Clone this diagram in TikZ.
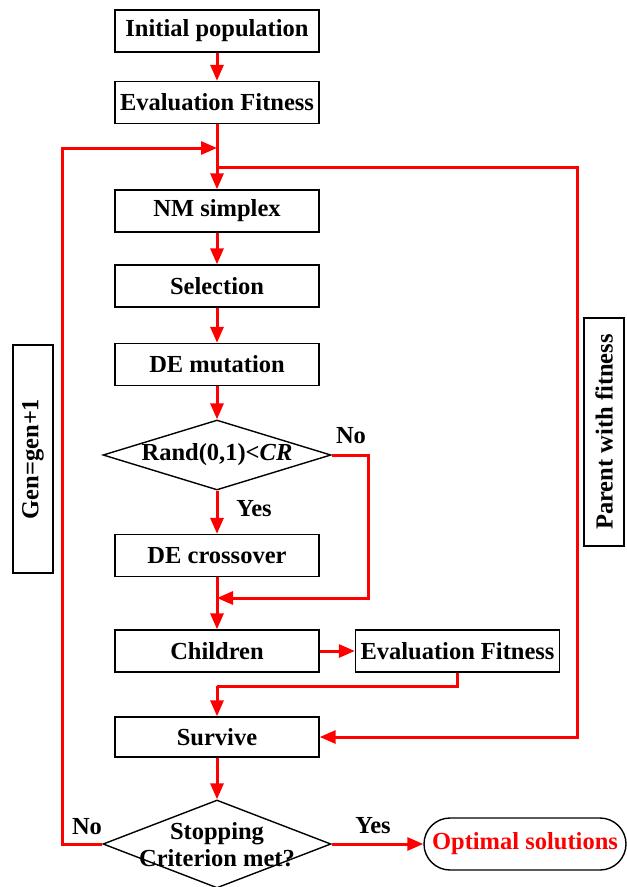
\documentclass[tikz,border=0pt]{standalone}
\usepackage{fontspec}
\setmainfont{Liberation Serif}
\usetikzlibrary{arrows.meta,shapes.geometric}
\begin{document}
\begin{tikzpicture}[x=1pt,y=-1pt,
  txt/.style={font=\fontsize{24.5}{27}\selectfont\bfseries},
  box/.style={txt,draw=black,line width=1.4pt,minimum width=204pt,minimum height=42pt,inner sep=0pt},
  sidebox/.style={txt,draw=black,line width=1.4pt,minimum width=228pt,minimum height=40pt,inner sep=0pt,rotate=90},
  dia/.style={diamond,draw=black,line width=1.4pt,minimum width=228pt,inner sep=0pt},
  flow/.style={draw=red,line width=3pt},
  arr/.style={flow,-{Triangle[length=16pt,width=13pt]}},
  lbl/.style={txt,inner sep=0pt}
]
\useasboundingbox (0,0) rectangle (627,887);

\node[box] (init) at (217,31) {Initial population};
\node[box] (eval1) at (217,102.5) {Evaluation Fitness};
\node[box] (nm) at (217,211) {NM simplex};
\node[box] (sel) at (217,286) {Selection};
\node[box] (mut) at (217,364.5) {DE mutation};
\node[dia,minimum height=70pt] (d1) at (217,455) {};
\node[lbl] (d1t) at (217,455) {Rand(0,1)<\textit{CR}};
\node[box] (cross) at (217,555.5) {DE crossover};
\node[box] (child) at (217,651) {Children};
\node[box] (eval2) at (457.5,651) {Evaluation Fitness};
\node[box,minimum height=40pt] (surv) at (217,737) {Survive};
\node[dia,minimum height=88pt] (stop) at (217,844) {};
\node[lbl,align=center] (stopt) at (217,845) {Stopping\\Criterion met?};
\node[txt,draw=black,line width=1.4pt,rounded corners=26pt,minimum width=202pt,minimum height=52pt,inner sep=0pt,text=red] (opt) at (525,844) {Optimal solutions};
\node[sidebox] (gen) at (33,459) {Gen=gen+1};
\node[sidebox] (par) at (604,432) {Parent with fitness};

\node[lbl] (no1) at (351,436) {No};
\node[lbl] (yes1) at (254,509) {Yes};
\node[lbl] (no2) at (87,827) {No};
\node[lbl] (yes2) at (373,826) {Yes};

\coordinate (j1) at (217,148);
\coordinate (j2) at (217,167);
\coordinate (j3) at (217,598);
\coordinate (j4) at (217,686);

\draw[arr] (init.south) -- (eval1.north);
\draw[arr] (eval1.south) -- (nm.north);
\draw[arr] (stop.west) -| (62,148) -- (j1);
\draw[arr] (j2) -- (577,167) |- (surv.east);
\draw[arr] (nm.south) -- (sel.north);
\draw[arr] (sel.south) -- (mut.north);
\draw[arr] (mut.south) -- (d1.north);
\draw[arr] (d1.south) -- (cross.north);
\draw[arr] (d1.east) -- (368,455) |- (j3);
\draw[arr] (cross.south) -- (child.north);
\draw[arr] (child.east) -- (eval2.west);
\draw[flow] (eval2.south) |- (j4);
\draw[arr] (j4) -- (surv.north);
\draw[arr] (surv.south) -- (stop.north);
\draw[arr] (stop.east) -- (opt.west);
\end{tikzpicture}
\end{document}
